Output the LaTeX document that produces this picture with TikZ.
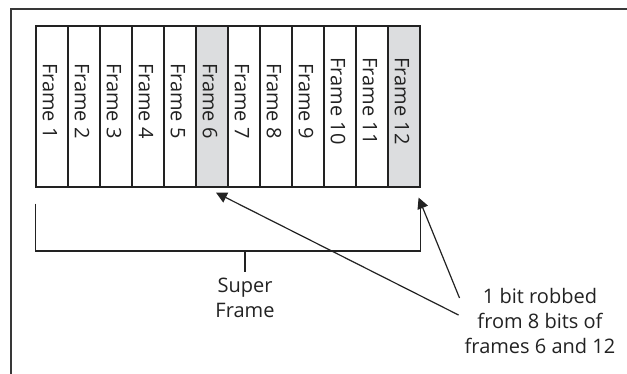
\documentclass[tikz,border=0pt]{standalone}
\usepackage{fontspec}
\setmainfont{Open Sans}
\usetikzlibrary{arrows.meta,calc}
\definecolor{ink}{RGB}{34,34,34}
\definecolor{robbed}{RGB}{220,221,223}
\begin{document}
\begin{tikzpicture}[x=1pt,y=-1pt,
  framebox/.style={draw=ink,line width=1.2pt,minimum width=32pt,minimum height=161pt,inner sep=0pt},
  framelabel/.style={rotate=-90,inner sep=0pt,font=\fontsize{20}{24}\selectfont,text=ink},
  note/.style={align=center,inner sep=0pt,font=\fontsize{20}{25}\selectfont,text=ink},
  wire/.style={draw=ink,line width=1.2pt},
  pointer/.style={wire,-{Triangle[length=11pt,width=11pt]}}]
\useasboundingbox (0,0) rectangle (627,374);
% surrounding panel edge
\draw[draw=ink!90,line width=1.6pt] (11,374) -- (11,9) -- (627,9);
% the twelve frames of the super frame
\foreach \i in {1,...,12}{
  \pgfmathsetmacro{\cx}{36+32*(\i-1)+16}
  \ifnum\i=6 \def\fc{robbed}\else\ifnum\i=12 \def\fc{robbed}\else\def\fc{white}\fi\fi
  \node[framebox,fill=\fc] (f\i) at (\cx,106.5) {};
  \node[framelabel] (t\i) at ($(f\i.center)+(-2,-5.5)$) {Frame \i};
}
% bracket spanning the super frame
\coordinate (bl) at ($(f1.south west)+(0,16)$);
\coordinate (br) at ($(f12.south east)+(0,18)$);
\coordinate (bm) at (245,251);
\draw[wire] (bl) |- (bm) -| (br);
\node[note,anchor=north] (super) at (245,278) {Super\\Frame};
\draw[wire] (bm) -- ([yshift=6pt]super.north);
% note about bit robbing
\node[note,anchor=north] (rob) at (540,288) {1 bit robbed\\from 8 bits of\\frames 6 and 12};
\coordinate (tip6) at ($(f6.south)+(4,5)$);
\coordinate (tip12) at ($(f12.south east)+(-2,10)$);
\coordinate (s12) at ($(rob.north west)+(-5,10)$);
\coordinate (s6) at ($(rob.north west)+(-6,27)$);
\draw[pointer] (s12) -- (tip12);
\draw[pointer] (s6) -- (tip6);
\end{tikzpicture}
\end{document}
